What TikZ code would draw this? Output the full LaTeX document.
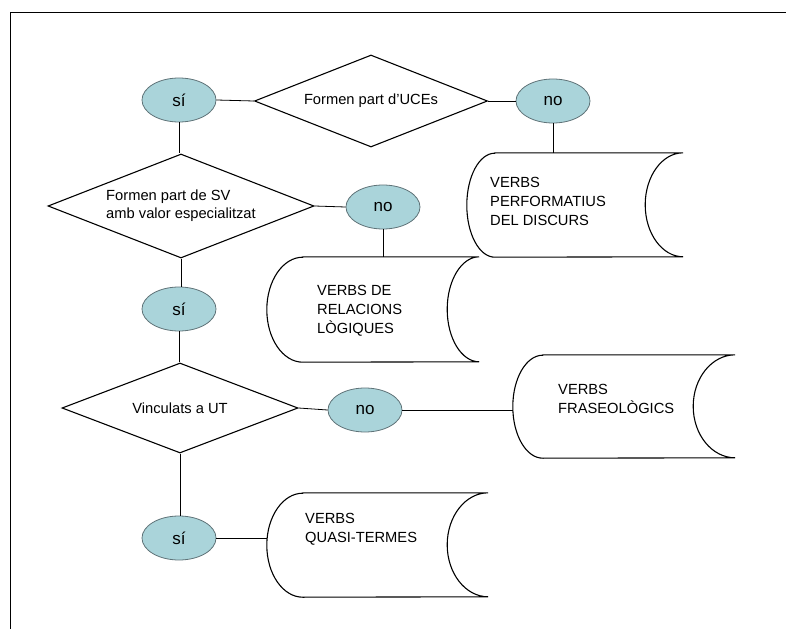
\documentclass[tikz,border=0pt]{standalone}
\usepackage{fontspec}
\setmainfont{Liberation Sans}
\usetikzlibrary{shapes.geometric}
\definecolor{ellfill}{RGB}{170,212,218}
\definecolor{elldraw}{RGB}{95,115,120}
\newcommand{\sdshape}[4]{%
  \draw[sdline] ([xshift=#2]#1.north west) -- (#1.north east)
    arc[start angle=90, end angle=270, x radius=#3, y radius=#4]
    -- ([xshift=#2]#1.south west)
    arc[start angle=270, end angle=90, x radius=#2, y radius=#4] -- cycle;
}
\begin{document}
\begin{tikzpicture}[x=1bp, y=-1bp,
  yn/.style={ellipse, draw=elldraw, fill=ellfill, line width=0.8pt,
    minimum width=74bp, minimum height=44bp, inner sep=0pt,
    font=\fontsize{17bp}{20bp}\selectfont},
  dec/.style={diamond, draw=black, line width=1.1pt, inner sep=0pt,
    align=left, font=\fontsize{14.7bp}{18bp}\selectfont},
  sdbox/.style={rectangle, draw=none, inner sep=0pt},
  sdtext/.style={anchor=west, inner sep=0pt, align=left,
    font=\fontsize{14.7bp}{19bp}\selectfont},
  sdline/.style={draw=black, line width=1.1pt},
  conn/.style={draw=black, line width=0.8pt},
  frame/.style={draw=black, line width=0.9pt}]
\useasboundingbox (0,0) rectangle (786,629);
\fill[white] (0,0) rectangle (786,629);
\coordinate (fbl) at (10,629);
\coordinate (ftl) at (10,12);
\coordinate (ftr) at (786,12);
\draw[frame] (fbl) -- (ftl) -- (ftr);

% row 1
\node[yn] (s1) at (179,100) {sí};
\node[dec, aspect=2.53, minimum width=233bp, minimum height=92bp] (d1) at (371,101) {Formen part d’UCEs};
\node[yn] (n1) at (553,101) {no};
\node[sdbox, minimum width=216bp, minimum height=104bp] (sd1) at (575,205) {};
\sdshape{sd1}{28bp}{38bp}{52bp}
\node[sdtext] (sd1t) at (490,201) {VERBS\\PERFORMATIUS\\DEL DISCURS};

% row 2
\node[dec, aspect=2.56, minimum width=266bp, minimum height=104bp] (d2) at (181,206) {Formen part de SV\\amb valor especialitzat};
\node[yn] (n2) at (383,207) {no};
\node[sdbox, minimum width=212bp, minimum height=105bp] (sd2) at (373,309.5) {};
\sdshape{sd2}{36bp}{32bp}{52.5bp}
\node[sdtext] (sd2t) at (317,311) {VERBS DE\\RELACIONS\\LÒGIQUES};

% row 3
\node[yn] (s2) at (179,309) {sí};
\node[dec, aspect=2.62, minimum width=236bp, minimum height=90bp] (d3) at (180,408) {Vinculats a UT};
\node[yn] (n3) at (365,410) {no};
\node[sdbox, minimum width=222bp, minimum height=103bp] (sd3) at (624,406.5) {};
\sdshape{sd3}{30bp}{42bp}{51.5bp}
\node[sdtext] (sd3t) at (558,399) {VERBS\\FRASEOLÒGICS};

% row 4
\node[yn] (s3) at (179,538) {sí};
\node[sdbox, minimum width=221bp, minimum height=104bp] (sd4) at (377.5,545) {};
\sdshape{sd4}{36bp}{41bp}{52bp}
\node[sdtext] (sd4t) at (305,529.5) {VERBS\\QUASI-TERMES};

% connectors
\draw[conn] (s1.east) -- (d1.west);
\draw[conn] (d1.east) -- (n1.west);
\draw[conn] (n1.south) -- (n1.south |- sd1.north);
\draw[conn] (s1.south) -- (s1.south |- d2.north);
\draw[conn] (d2.east) -- (n2.west);
\draw[conn] (n2.south) -- (n2.south |- sd2.north);
\draw[conn] (d2.south) -- (d2.south |- s2.north);
\draw[conn] (s2.south) -- (s2.south |- d3.north);
\draw[conn] (d3.east) -- (n3.west);
\draw[conn] (n3.east) -- (n3.east -| sd3.west);
\draw[conn] (d3.south) -- (d3.south |- s3.north);
\draw[conn] (s3.east) -- (s3.east -| sd4.west);
\end{tikzpicture}
\end{document}
